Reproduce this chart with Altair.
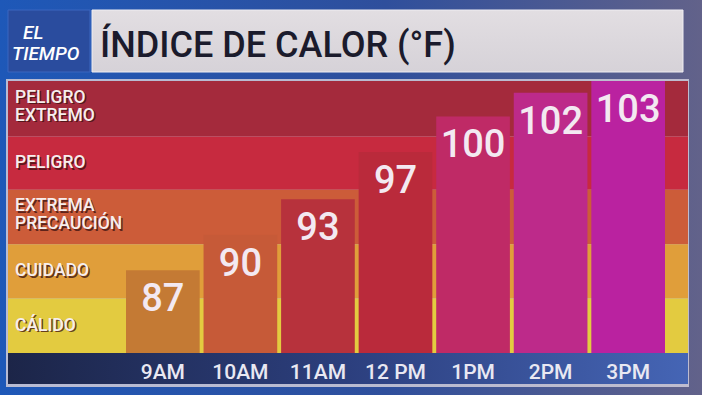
import altair as alt
import pandas as pd

# ---- data ----
hours = ["9AM", "10AM", "11AM", "12 PM", "1PM", "2PM", "3PM"]
values = [87, 90, 93, 97, 100, 102, 103]
bar_colors = ["#c47a34", "#c65a38", "#b7323c", "#ba2a3b", "#bf2a66", "#bd2a8a", "#ba22a0"]

band_names = ["PELIGRO\nEXTREMO", "PELIGRO", "EXTREMA\nPRECAUCIÓN", "CUIDADO", "CÁLIDO"]
band_lo = [98.3, 93.8, 89.2, 84.6, 80.0]
band_hi = [103.0, 98.3, 93.8, 89.2, 84.6]
band_colors = ["#a42a3c", "#c72a3f", "#cc5c39", "#e09e3a", "#e3cb40"]

title_text = "ÍNDICE DE CALOR (°F)"
logo_top = "EL"
logo_bottom = "TIEMPO"

Y_MIN, Y_MAX = 80, 103
W, H = 680, 272

bars_df = pd.DataFrame({"hour": hours, "value": values, "color": bar_colors, "base": [Y_MIN] * len(hours)})
bands_df = pd.DataFrame({"name": band_names, "lo": band_lo, "hi": band_hi, "color": band_colors})

yscale = alt.Scale(domain=[Y_MIN, Y_MAX], nice=False, zero=False)
xscale = alt.Scale(domain=hours, range=[118, 657], paddingInner=0.05, paddingOuter=0)

FONT = "Roboto"

def grad(stops, x2=1, y2=0):
    return alt.Gradient(
        gradient="linear",
        stops=[alt.GradientStop(color=c, offset=o) for o, c in stops],
        x1=0, y1=0, x2=x2, y2=y2,
    )

dummy = pd.DataFrame({"a": [0]})

bg = alt.Chart(dummy).mark_rect(
    fill=grad([(0, "#1e58b8"), (0.55, "#2f4f9c"), (1, "#62628a")])
).encode(x=alt.value(-8), x2=alt.value(W + 14), y=alt.value(-81), y2=alt.value(H + 42))

frame = alt.Chart(dummy).mark_rect(
    fill="#c9c6d6", opacity=0.9
).encode(x=alt.value(-2), x2=alt.value(W + 1), y=alt.value(-2), y2=alt.value(H + 34))

bands = alt.Chart(bands_df).mark_rect().encode(
    x=alt.value(0), x2=alt.value(W),
    y=alt.Y("lo:Q", scale=yscale, axis=None),
    y2="hi:Q",
    color=alt.Color("color:N", scale=None),
)

axis_bar = alt.Chart(dummy).mark_rect(
    fill=grad([(0, "#1c2548"), (0.5, "#2c3f7e"), (1, "#4565b5")])
).encode(x=alt.value(0), x2=alt.value(W), y=alt.value(H), y2=alt.value(H + 31))

bars = alt.Chart(bars_df).mark_bar().encode(
    x=alt.X("hour:N", scale=xscale, sort=hours,
            axis=alt.Axis(title=None, orient="bottom", domain=False, ticks=False,
                          labelAngle=0, labelFont=FONT, labelFontSize=21, labelFontWeight=500,
                          labelColor="#e9e8f2", labelPadding=8, zindex=2)),
    y=alt.Y("value:Q", scale=yscale, axis=None),
    y2="base:Q",
    color=alt.Color("color:N", scale=None),
)

bands_lbl = alt.Chart(bands_df).transform_calculate(
    mid="(datum.lo + datum.hi) / 2",
    two="indexof(datum.name, '\\n') >= 0 ? 1 : 0",
)

def band_labels(two, color, dx, dy0, opacity=1.0):
    return bands_lbl.transform_filter(f"datum.two == {two}").mark_text(
        align="left", baseline="middle", font=FONT, fontSize=17.5, fontWeight=500,
        lineBreak="\n", lineHeight=18, color=color, opacity=opacity,
        dx=dx, dy=dy0 + (-11 if two else 0),
    ).encode(x=alt.value(7), y=alt.Y("mid:Q", scale=yscale), text="name:N")

band_layers = [
    band_labels(1, "#3a1010", 1.5, 1.5, 0.75),
    band_labels(0, "#3a1010", 1.5, 1.5, 0.75),
    band_labels(1, "#f6eeee", 0, 0),
    band_labels(0, "#f6eeee", 0, 0),
]

value_text = alt.Chart(bars_df).mark_text(
    align="center", baseline="alphabetic", font=FONT, fontSize=38, fontWeight=500,
    color="#f3e9f1", dy=41
).encode(
    x=alt.X("hour:N", scale=xscale, sort=hours, bandPosition=0.5),
    y=alt.Y("value:Q", scale=yscale),
    text="value:Q",
)

title_box = alt.Chart(dummy).mark_rect(
    fill=grad([(0, "#e2dee2"), (1, "#d6d2d8")], x2=0, y2=1), stroke="#f0eef2", strokeWidth=1
).encode(x=alt.value(84), x2=alt.value(675), y=alt.value(-71), y2=alt.value(-9))

logo_box = alt.Chart(dummy).mark_rect(
    fill="#2a4c9e", stroke="#3a66c0", strokeWidth=1
).encode(x=alt.value(0), x2=alt.value(82), y=alt.value(-71), y2=alt.value(-9))

title = alt.Chart(pd.DataFrame({"t": [title_text]})).mark_text(
    align="left", baseline="alphabetic", font=FONT, fontSize=36, fontWeight=500, color="#1b1b2c"
).encode(x=alt.value(92), y=alt.value(-24), text="t:N")

logo1 = alt.Chart(pd.DataFrame({"t": [logo_top]})).mark_text(
    align="left", baseline="alphabetic", font=FONT, fontSize=19, fontWeight=500,
    fontStyle="italic", color="#ffffff"
).encode(x=alt.value(15), y=alt.value(-42), text="t:N")
logo2 = alt.Chart(pd.DataFrame({"t": [logo_bottom]})).mark_text(
    align="left", baseline="alphabetic", font=FONT, fontSize=19, fontWeight=500,
    fontStyle="italic", color="#ffffff"
).encode(x=alt.value(4), y=alt.value(-21), text="t:N")

chart = alt.layer(
    bg, frame, bands, axis_bar, bars, *band_layers, value_text,
    title_box, logo_box, title, logo1, logo2
).properties(
    width=W, height=H,
    padding={"left": 8, "top": 81, "right": 14, "bottom": 42},
    autosize=alt.AutoSizeParams(type="none"),
    background="#34508f",
).configure_view(strokeWidth=0)

chart.save("out.html", embed_options={"renderer": "svg", "actions": False})
